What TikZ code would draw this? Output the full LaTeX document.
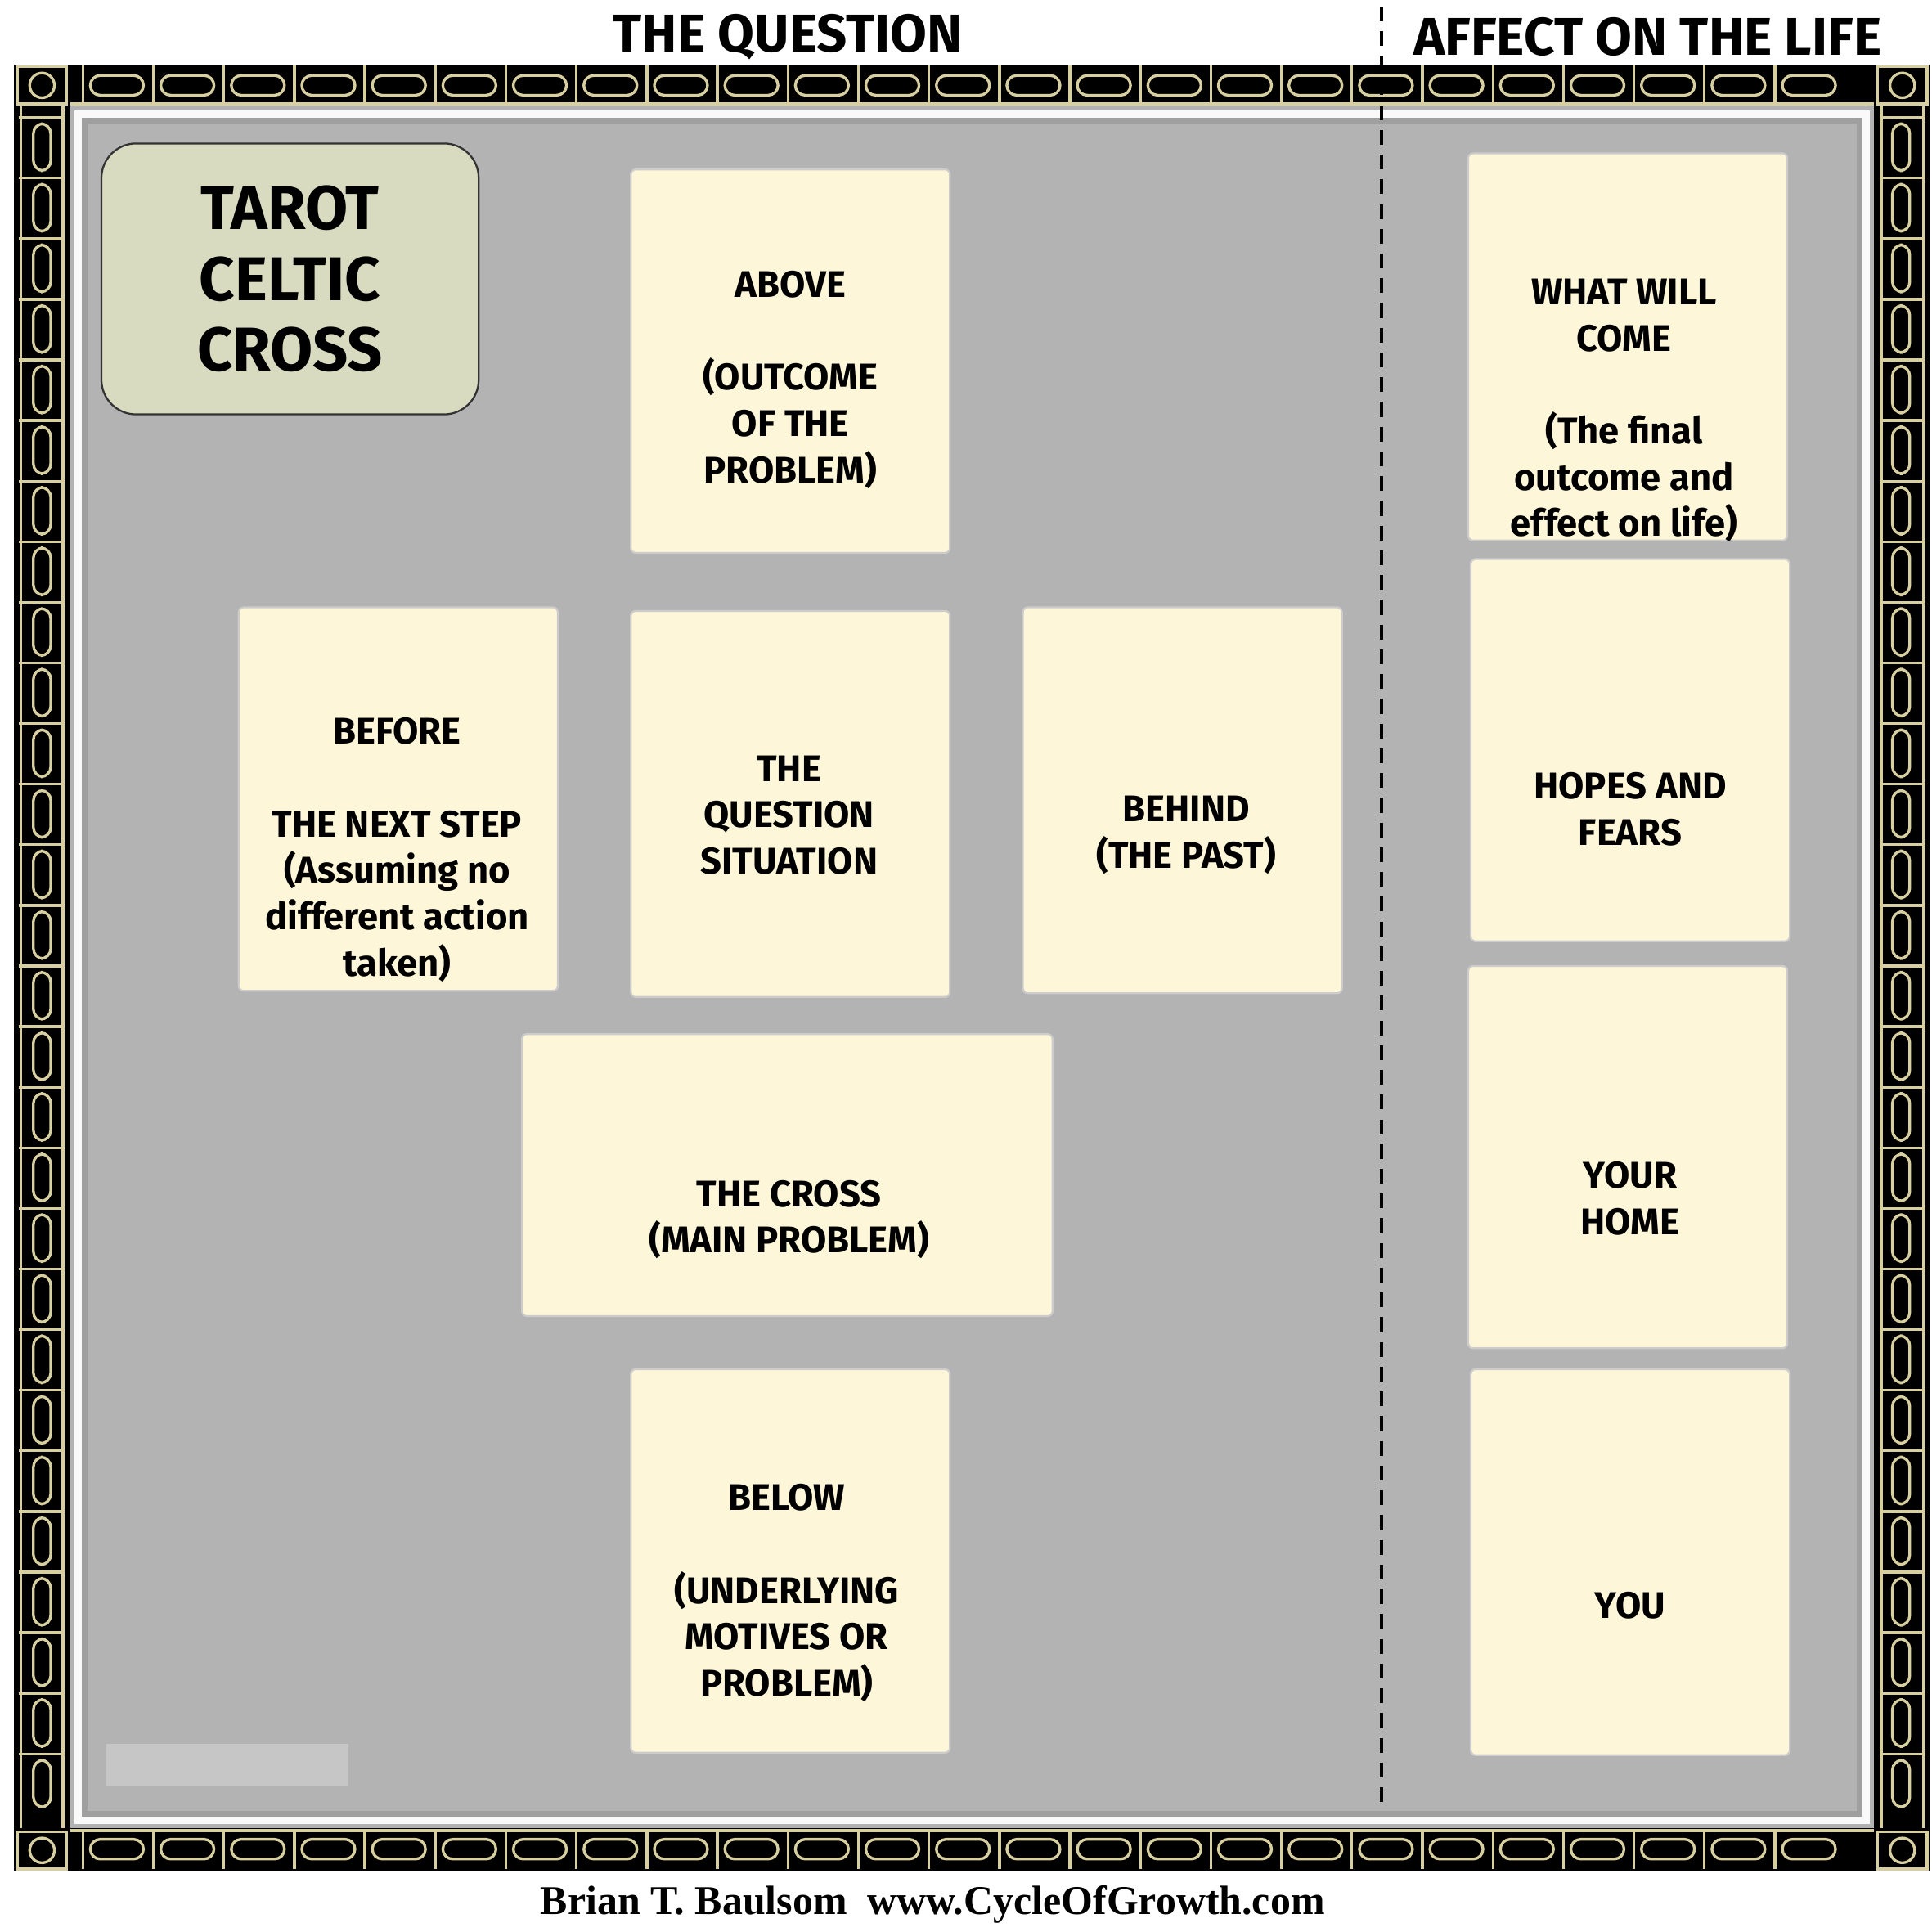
\documentclass[tikz,border=0pt]{standalone}
\usepackage{fontspec}
\setmainfont{Fira Sans}[UprightFont=* Bold, BoldFont=* Bold]
\newfontfamily\footfont{Liberation Serif}
\begin{document}
\begin{tikzpicture}[x=1pt,y=-1pt,
  card/.style={draw=black!20,line width=1.5pt,fill=cardc,rounded corners=4pt,inner sep=0pt},
  lbl/.style={align=center,inner sep=0pt,font=\fontsize{30}{37.5}\selectfont},
  gold/.style={draw=goldc,line width=2.2pt},
  head/.style={font=\fontsize{43}{45}\selectfont,anchor=center}]
\definecolor{cardc}{HTML}{FDF6D8}
\definecolor{goldc}{HTML}{D8CFA0}
\definecolor{grayc}{HTML}{B3B3B3}
\definecolor{tarotc}{HTML}{D8DBC0}
\useasboundingbox (0,0) rectangle (1562,1562);
\fill[white] (0,0) rectangle (1562,1562);
% frame
\fill[black] (11,52) rectangle (1560,1513);
\fill[gray!60] (57,86) rectangle (1515,1478);
\fill[white!95!gray] (60,89) rectangle (1512,1475);
\fill[gray!75] (66,95) rectangle (1506,1469);
\fill[grayc] (71,100) rectangle (1501,1464);
\fill[gray!45] (86,1410) rectangle (282,1444);
\foreach \x in {67,124,...,1480}{
  \draw[gold,rounded corners=8pt] (\x+6,61) rectangle (\x+49,77);
  \draw[gold,rounded corners=8pt] (\x+6,1487) rectangle (\x+49,1503);
  \draw[gold] (\x,53)--(\x,84); \draw[gold] (\x,1480)--(\x,1511);
}
\draw[gold] (57,84)--(1515,84); \draw[gold] (57,1480)--(1515,1480);
\foreach \y in {95,144,...,1440}{
  \draw[gold,rounded corners=8pt] (27,\y+5) rectangle (41,\y+43);
  \draw[gold,rounded corners=8pt] (1530,\y+5) rectangle (1544,\y+43);
  \draw[gold] (15,\y)--(52,\y); \draw[gold] (1520,\y)--(1557,\y);
}
\draw[gold] (17,86)--(17,1478); \draw[gold] (51,86)--(51,1478);
\draw[gold] (1521,86)--(1521,1478); \draw[gold] (1555,86)--(1555,1478);
\foreach \cx/\cy in {34/69,1538/69,34/1496,1538/1496}{
  \draw[gold] (\cx-20,\cy-15) rectangle (\cx+20,\cy+15);
  \draw[gold] (\cx,\cy) circle (10);
}
% headings
\node[head] (q) at (637,30) {THE QUESTION};
\node[head] (a) at (1332,30) {AFFECT ON THE LIFE};
\coordinate (d1) at (1117,5); \coordinate (d2) at (1117,1462);
\draw[line width=3pt,dash pattern=on 12pt off 8pt] (d1)--(d2);
% tarot
\node[draw=black!80,line width=1.5pt,fill=tarotc,rounded corners=28pt,minimum width=305pt,minimum height=219pt,align=center,font=\fontsize{50}{57}\selectfont] (t) at (234.5,225.5) {TAROT\\CELTIC\\CROSS};
% cards
\node[card,minimum width=258pt,minimum height=310pt] (above) at (639,292) {};
\node[lbl] (abovet) at (639,307) {ABOVE\\[37.5pt](OUTCOME\\OF THE\\PROBLEM)};
\node[card,minimum width=258pt,minimum height=310pt] (before) at (322,646) {};
\node[lbl] (beforet) at (321,687) {BEFORE\\[37.5pt]THE NEXT STEP\\(Assuming no\\different action\\taken)};
\node[card,minimum width=258pt,minimum height=312pt] (quest) at (639,650) {};
\node[lbl] (questt) at (638,659) {THE\\QUESTION\\SITUATION};
\node[card,minimum width=258pt,minimum height=312pt] (behind) at (956,647) {};
\node[lbl] (behindt) at (959,675) {BEHIND\\(THE PAST)};
\node[card,minimum width=429pt,minimum height=228pt] (cross) at (636.5,950) {};
\node[lbl] (crosst) at (638,986) {THE CROSS\\(MAIN PROBLEM)};
\node[card,minimum width=258pt,minimum height=310pt] (below) at (639,1262) {};
\node[lbl] (belowt) at (636,1288) {BELOW\\[37.5pt](UNDERLYING\\MOTIVES OR\\PROBLEM)};
\node[card,minimum width=258pt,minimum height=313pt] (will) at (1316,280.5) {};
\node[lbl] (willt) at (1313,332) {WHAT WILL\\COME\\[37.5pt](The final\\outcome and\\effect on life)};
\node[card,minimum width=258pt,minimum height=309pt] (hopes) at (1318,606.5) {};
\node[lbl] (hopest) at (1318,654) {HOPES AND\\FEARS};
\node[card,minimum width=258pt,minimum height=309pt] (home) at (1316,935.5) {};
\node[lbl] (homet) at (1318,969) {YOUR\\HOME};
\node[card,minimum width=258pt,minimum height=312pt] (you) at (1318,1263) {};
\node[lbl] (yout) at (1318,1298) {YOU};
% footer
\node[font=\fontsize{33}{36}\footfont\bfseries] (f) at (754,1540) {Brian T. Baulsom\ \ www.CycleOfGrowth.com};
\end{tikzpicture}
\end{document}
